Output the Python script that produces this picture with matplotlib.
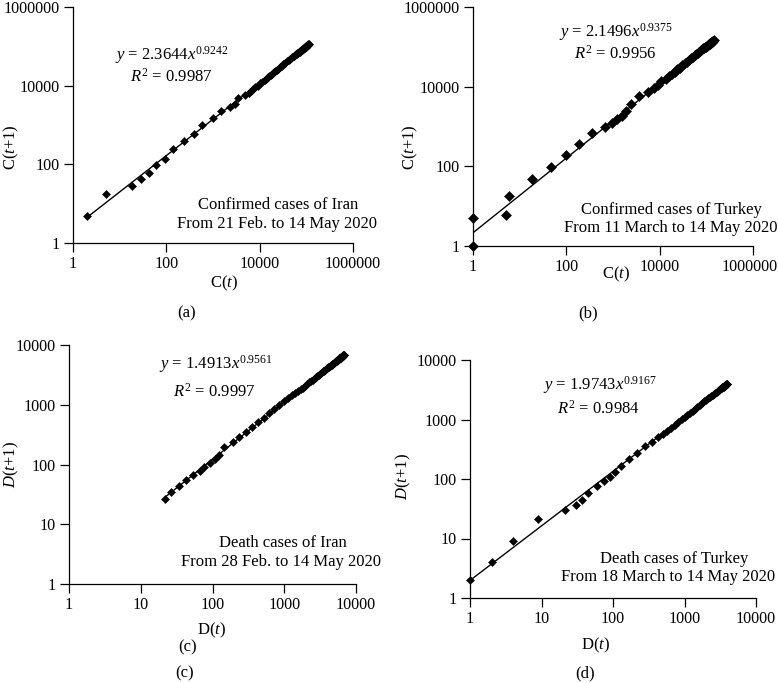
import matplotlib
matplotlib.use("Agg")
import matplotlib.pyplot as plt
import matplotlib.transforms as mtransforms
import numpy as np

plt.rcParams['font.family'] = ['Liberation Serif', 'DejaVu Serif']
plt.rcParams['mathtext.fontset'] = 'custom'
plt.rcParams['mathtext.rm'] = 'Liberation Serif'
plt.rcParams['mathtext.it'] = 'Liberation Serif:italic'

# Cumulative series (C(t) on x, C(t+1) on y)
iran_confirmed = [2, 5, 18, 28, 43, 61, 95, 139, 245, 388, 593, 978, 1501, 2336, 2922,
                  3513, 4747, 5823, 6566, 7161, 8042, 9000, 10075, 11364, 12729, 13938,
                  14991, 16169, 17361, 18407, 19644, 20610, 21638, 23049, 24811, 27017,
                  29406, 32332, 35408, 38309, 41495, 44605, 47593, 50468, 53183, 55743,
                  58226, 60500, 62589, 64586, 66220, 68192, 70029, 71686, 73303, 74877,
                  76389, 77995, 79494, 80868, 82211, 83505, 84802, 85996, 87026, 88194,
                  89328, 90481, 91472, 92584, 93657, 94640, 95646, 96448, 97424, 98647,
                  99970, 101650, 103135, 104691, 106220, 107603, 109286, 110767, 112725,
                  114533]
turkey_confirmed = [1, 1, 5, 6, 18, 47, 98, 191, 359, 670, 947, 1236, 1529, 1872, 2433,
                    3629, 5698, 7402, 9217, 10827, 13531, 15679, 18135, 20921, 23934,
                    27069, 30217, 34109, 38226, 42282, 47029, 52167, 56956, 61049, 65111,
                    69392, 74193, 78546, 82329, 86306, 90980, 95591, 98674, 101790, 104912,
                    107773, 110130, 112261, 114653, 117589, 120204, 122392, 124375, 126045,
                    127659, 129491, 131744, 133721, 135569, 137115, 138657, 139771, 141475,
                    143114, 144749]
iran_deaths = [22, 26, 34, 43, 54, 66, 77, 92, 107, 124, 145, 194, 237, 291, 354, 429, 514,
               611, 724, 853, 988, 1135, 1284, 1433, 1556, 1685, 1812, 1934, 2077, 2234,
               2378, 2517, 2640, 2757, 2898, 3036, 3160, 3294, 3452, 3603, 3739, 3872, 3993,
               4110, 4232, 4357, 4474, 4585, 4683, 4777, 4869, 4958, 5031, 5118, 5209, 5297,
               5391, 5481, 5574, 5650, 5710, 5806, 5877, 5957, 6028, 6091, 6156, 6203, 6277,
               6340, 6418, 6486, 6541, 6589, 6640, 6685, 6733, 6783, 6854]
turkey_deaths = [1, 2, 4, 9, 21, 30, 37, 44, 59, 75, 92, 108, 131, 168, 214, 277, 356, 425,
                 501, 574, 649, 725, 812, 908, 1006, 1101, 1198, 1296, 1403, 1518, 1643,
                 1769, 1890, 2017, 2140, 2259, 2376, 2491, 2600, 2706, 2805, 2900, 2992,
                 3081, 3174, 3258, 3336, 3397, 3461, 3520, 3584, 3641, 3689, 3739, 3786,
                 3841, 3894, 3952, 4007]

fit_a = [2.3644, 2.1496, 1.4913, 1.9743]
fit_b = [0.9242, 0.9375, 0.9561, 0.9167]
r2 = ["0.9987", "0.9956", "0.9997", "0.9984"]

titles1 = ["Confirmed cases of Iran", "Confirmed cases of Turkey",
           "Death cases of Iran", "Death cases of Turkey"]
titles2 = ["From 21 Feb. to 14 May 2020", "From 11 March to 14 May 2020",
           "From 28 Feb. to 14 May 2020", "From 18 March to 14 May 2020"]
xlabels = [r"C($t$)", r"C($t$)", r"D($t$)", r"D($t$)"]
ylabels = [r"C($t$+1)", r"C($t$+1)", r"$D$($t$+1)", r"$D$($t$+1)"]
panel_letters = ["(a)", "(b)", "(c)", "(d)"]

series = [iran_confirmed, turkey_confirmed, iran_deaths, turkey_deaths]
fit_start = [2, 1, None, 1]

W, H = 778, 683
fig = plt.figure(figsize=(W / 100, H / 100), dpi=100)

def px_axes(x0, y0, x1, y1):
    return fig.add_axes([x0 / W, 1 - y1 / H, (x1 - x0) / W, (y1 - y0) / H])

boxes = [(73, 7, 353, 243), (473, 7, 753, 246), (69, 345, 356, 584), (470, 360, 756, 598)]
xlims = [(1, 1e6), (1, 1e6), (1, 1e4), (1, 1e4)]
ticks = [[1, 100, 10000, 1000000], [1, 100, 10000, 1000000],
         [1, 10, 100, 1000, 10000], [1, 10, 100, 1000, 10000]]
eq_pos = [((0.354, 0.795), (0.352, 0.706)), ((0.511, 0.897), (0.507, 0.806)),
          ((0.512, 0.922), (0.505, 0.806)), ((0.455, 0.893), (0.448, 0.796))]
lab_pos = [((0.732, 0.161), (0.728, 0.080)), ((0.707, 0.151), (0.707, 0.075)),
           ((0.744, 0.172), (0.738, 0.092)), ((0.713, 0.164), (0.692, 0.088))]
xlab_px = [(224, 283), (616, 274), (212, 630), (596, 645)]
ylab_px = [(11, 147), (410, 147), (11, 465), (403, 477)]
letter_px = [(187, 313), (588, 313), (185, 673), (585, 673)]
msizes = [4.3, 4.9, 4.3, 4.3]

FS = 12
for i in range(4):
    ax = px_axes(*boxes[i])
    s = np.array(series[i], dtype=float)
    x, y = s[:-1], s[1:]
    ax.set_xscale('log')
    ax.set_yscale('log')
    ax.set_xlim(*xlims[i])
    ax.set_ylim(*xlims[i])
    x0 = fit_start[i] if fit_start[i] is not None else x.min()
    xf = np.array([x0, x.max()])
    ax.plot(xf, fit_a[i] * xf ** fit_b[i], color='black', lw=1.0, zorder=2)
    ax.plot(x, y, linestyle='none', marker='D', ms=msizes[i], color='black',
            mec='black', mew=0.4, zorder=3, clip_on=False)
    ax.set_xticks(ticks[i])
    ax.set_yticks(ticks[i])
    ax.set_xticklabels([str(t) for t in ticks[i]])
    ax.set_yticklabels([str(t) for t in ticks[i]])
    ax.minorticks_off()
    ax.tick_params(direction='out', length=6.7, width=0.9, labelsize=11.6, pad=3)
    for sp in ['top', 'right']:
        ax.spines[sp].set_visible(False)
    for sp in ['left', 'bottom']:
        ax.spines[sp].set_linewidth(0.9)
    if i == 1:
        lab = ax.get_xticklabels()[-1]
        lab.set_transform(lab.get_transform() +
                          mtransforms.ScaledTranslation(-3 / 100, 0, fig.dpi_scale_trans))
    (ex, ey), (rx, ry) = eq_pos[i]
    ax.text(ex, ey, r"$y$ = %.4f$x^{%.4f}$" % (fit_a[i], fit_b[i]), transform=ax.transAxes,
            ha='center', va='center', fontsize=FS)
    ax.text(rx, ry, r"$R^2$ = %s" % r2[i], transform=ax.transAxes,
            ha='center', va='center', fontsize=FS)
    (t1x, t1y), (t2x, t2y) = lab_pos[i]
    ax.text(t1x, t1y, titles1[i], transform=ax.transAxes, ha='center', va='center', fontsize=FS)
    ax.text(t2x, t2y, titles2[i], transform=ax.transAxes, ha='center', va='center', fontsize=FS)
    fig.text(xlab_px[i][0] / W, 1 - xlab_px[i][1] / H, xlabels[i], ha='center', va='center', fontsize=FS)
    fig.text(ylab_px[i][0] / W, 1 - ylab_px[i][1] / H, ylabels[i], ha='center', va='center',
             fontsize=FS, rotation=90)
    fig.text(letter_px[i][0] / W, 1 - letter_px[i][1] / H, panel_letters[i], ha='center',
             va='center', fontsize=FS)

# duplicate panel letter present in the original under D(t) of panel (c)
fig.text(188 / W, 1 - 647 / H, "(c)", ha='center', va='center', fontsize=FS)

fig.savefig("out.png", dpi=100)
